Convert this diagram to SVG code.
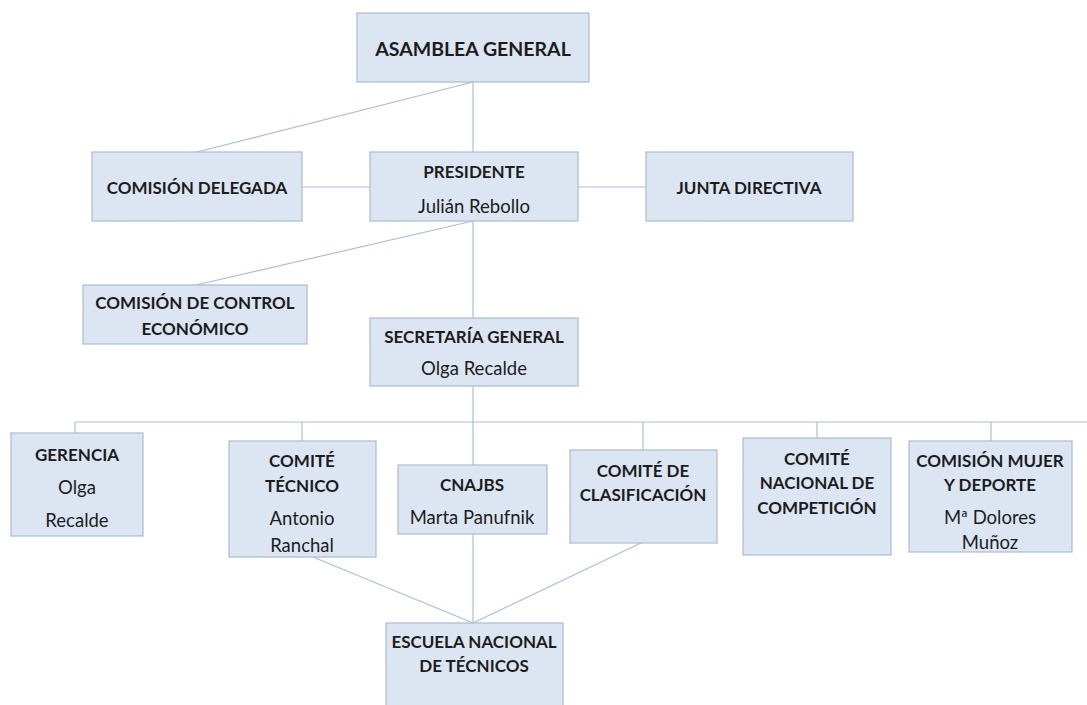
<svg xmlns="http://www.w3.org/2000/svg" width="1087" height="705" viewBox="0 0 1087 705">
<style>
.box{fill:#dce6f2;stroke:#a9bbd0;stroke-width:1.2}
.c line{stroke:#a9bfd6;stroke-width:1.2;fill:none}
text{font-family:Lato,"Open Sans","Liberation Sans",sans-serif;fill:#1c1c1c;text-anchor:middle;dominant-baseline:central}
.t{font-weight:bold;font-size:17px}
.n{font-size:18.5px}
</style>
<rect width="1087" height="705" fill="#ffffff"/>
<g class="c" id="connectors">
<line x1="473" y1="82" x2="473" y2="152"/>
<line x1="473" y1="82" x2="197" y2="152"/>
<line x1="302" y1="187" x2="370" y2="187"/>
<line x1="578" y1="187" x2="646" y2="187"/>
<line x1="473" y1="221" x2="473" y2="318"/>
<line x1="473" y1="221" x2="196" y2="285"/>
<line x1="473" y1="386" x2="473" y2="465"/>
<line x1="75" y1="422" x2="1087" y2="422"/>
<line x1="75" y1="422" x2="75" y2="433"/>
<line x1="302" y1="422" x2="302" y2="441"/>
<line x1="643" y1="422" x2="643" y2="450"/>
<line x1="817" y1="422" x2="817" y2="438"/>
<line x1="991" y1="422" x2="991" y2="441"/>
<line x1="473" y1="534" x2="473" y2="623"/>
<line x1="313" y1="557" x2="473" y2="623"/>
<line x1="641" y1="543" x2="473" y2="623"/>
</g>
<g id="asamblea"><rect class="box" x="357" y="13" width="232" height="69"/><text class="t" x="473" y="48" style="font-size:19.5px">ASAMBLEA GENERAL</text></g>
<g id="delegada"><rect class="box" x="92" y="152" width="210" height="69"/><text class="t" x="197" y="187">COMISIÓN DELEGADA</text></g>
<g id="presidente"><rect class="box" x="370" y="152" width="208" height="69"/><text class="t" x="474" y="171">PRESIDENTE</text><text class="n" x="474" y="206">Julián Rebollo</text></g>
<g id="junta"><rect class="box" x="646" y="152" width="207" height="69"/><text class="t" x="749" y="187">JUNTA DIRECTIVA</text></g>
<g id="control"><rect class="box" x="83" y="285" width="224" height="59"/><text class="t" x="195" y="302">COMISIÓN DE CONTROL</text><text class="t" x="195" y="328">ECONÓMICO</text></g>
<g id="secretaria"><rect class="box" x="370" y="318" width="208" height="68"/><text class="t" x="474" y="336">SECRETARÍA GENERAL</text><text class="n" x="474" y="368">Olga Recalde</text></g>
<g id="gerencia"><rect class="box" x="11" y="433" width="132" height="103"/><text class="t" x="77" y="454">GERENCIA</text><text class="n" x="77" y="487">Olga</text><text class="n" x="77" y="520">Recalde</text></g>
<g id="tecnico"><rect class="box" x="229" y="441" width="147" height="116"/><text class="t" x="302" y="460">COMITÉ</text><text class="t" x="302" y="485">TÉCNICO</text><text class="n" x="302" y="518">Antonio</text><text class="n" x="302" y="545">Ranchal</text></g>
<g id="cnajbs"><rect class="box" x="398" y="465" width="149" height="69"/><text class="t" x="472" y="484">CNAJBS</text><text class="n" x="472" y="517">Marta Panufnik</text></g>
<g id="clasificacion"><rect class="box" x="570" y="450" width="147" height="93"/><text class="t" x="643" y="470">COMITÉ DE</text><text class="t" x="643" y="494">CLASIFICACIÓN</text></g>
<g id="competicion"><rect class="box" x="743" y="438" width="148" height="117"/><text class="t" x="817" y="458">COMITÉ</text><text class="t" x="817" y="482">NACIONAL DE</text><text class="t" x="817" y="507">COMPETICIÓN</text></g>
<g id="mujer"><rect class="box" x="909" y="441" width="163" height="111"/><text class="t" x="990" y="460">COMISIÓN MUJER</text><text class="t" x="990" y="484">Y DEPORTE</text><text class="n" x="990" y="517">Mª Dolores</text><text class="n" x="990" y="542">Muñoz</text></g>
<g id="escuela"><rect class="box" x="386" y="623" width="177" height="90"/><text class="t" x="474" y="641">ESCUELA NACIONAL</text><text class="t" x="474" y="665">DE TÉCNICOS</text></g>
</svg>
